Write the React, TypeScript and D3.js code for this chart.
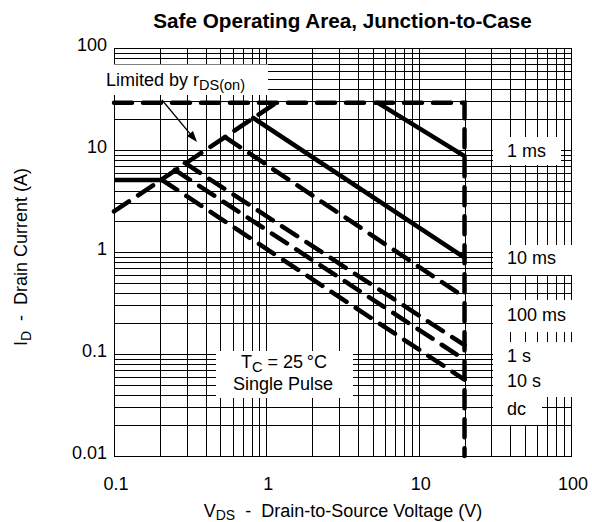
import React from 'react';
import * as d3 from 'd3';

const W = 592;
const H = 522;
const plot = { left: 114, right: 571, top: 48, bottom: 456 };

const xDomain: [number, number] = [0.1, 100];
const yDomain: [number, number] = [0.01, 100];
const xTickValues = [0.1, 1, 10, 100];
const xTickLabels = ['0.1', '1', '10', '100'];
const yTickValues = [0.01, 0.1, 1, 10, 100];
const yTickLabels = ['0.01', '0.1', '1', '10', '100'];

type P = { v: number; i: number };
const limitBoundary: P[] = [{ v: 0.1, i: 29 }, { v: 20, i: 29 }, { v: 20, i: 0.01 }];
const rdsOnLine: P[] = [{ v: 0.1, i: 2.5 }, { v: 1.16, i: 29 }];
const dcFlatSegment: P[] = [{ v: 0.1, i: 5.08 }, { v: 0.207, i: 5.08 }];
const pulse1ms: P[] = [{ v: 5.4, i: 29 }, { v: 20, i: 8.7 }];
const pulse10ms: P[] = [{ v: 0.82, i: 20.6 }, { v: 20, i: 0.88 }];
const pulse100ms: P[] = [{ v: 0.536, i: 13.4 }, { v: 20, i: 0.36 }];
const pulse1s: P[] = [{ v: 0.292, i: 7.46 }, { v: 20, i: 0.122 }];
const pulse10s: P[] = [{ v: 0.251, i: 6.37 }, { v: 20, i: 0.088 }];
const pulseDc: P[] = [{ v: 0.207, i: 5.08 }, { v: 20, i: 0.056 }];

const curveLabels = ['1 ms', '10 ms', '100 ms', '1 s', '10 s', 'dc'];
const labelBaselines = [157, 264, 321, 362, 387, 415];

const FONT = '"Liberation Sans", Arial, Helvetica, sans-serif';
const NB = '\u00A0';
const FS = 18;

export default function App() {
  const x = d3.scaleLog().domain(xDomain).range([plot.left, plot.right]);
  const y = d3.scaleLog().domain(yDomain).range([plot.bottom, plot.top]);
  const line = d3
    .line<P>()
    .x((d) => x(d.v))
    .y((d) => y(d.i));

  const xGrid: number[] = [];
  for (let d = 0.1; d < 99; d *= 10) for (let k = 1; k <= 9; k++) xGrid.push(k * d);
  xGrid.push(100);
  const yGrid: number[] = [];
  for (let d = 0.01; d < 99; d *= 10) for (let k = 1; k <= 9; k++) yGrid.push(k * d);
  yGrid.push(100);

  const snap = (p: number) => Math.round(p) + 0.5;

  const masks = [
    { x: 100, y: 64.5, w: 168, h: 30.5 },
    { x: 216, y: 351, w: 137, h: 47 },
    { x: 493, y: 137, w: 68, h: 28 },
    { x: 493, y: 245, w: 90, h: 30 },
    { x: 493, y: 300, w: 90, h: 32 },
    { x: 493, y: 342, w: 90, h: 55 },
    { x: 493, y: 397, w: 49, h: 28 },
  ];

  const dash = '18,11';
  const sw = 4.5;

  // arrow
  const ax1 = 162, ay1 = 100, ax2 = 197, ay2 = 142;
  const ang = Math.atan2(ay2 - ay1, ax2 - ax1);
  const ah = 11, aw = 4;
  const bx = ax2 - ah * Math.cos(ang), by = ay2 - ah * Math.sin(ang);
  const head = `${ax2},${ay2} ${bx + aw * Math.sin(ang)},${by - aw * Math.cos(ang)} ${bx - aw * Math.sin(ang)},${by + aw * Math.cos(ang)}`;

  return (
    <svg
      width={W}
      height={H}
      style={{ position: 'absolute', left: 0, top: 0, background: '#fff' }}
      fontFamily={FONT}
    >
      <rect x={0} y={0} width={W} height={H} fill="#fff" />
      <g stroke="#000" strokeWidth={1} shapeRendering="crispEdges">
        {xGrid.map((v, k) => (
          <line key={'xg' + k} x1={snap(x(v))} x2={snap(x(v))} y1={plot.top} y2={plot.bottom + 1} />
        ))}
        {yGrid.map((v, k) => (
          <line key={'yg' + k} x1={plot.left} x2={plot.right + 1} y1={snap(y(v))} y2={snap(y(v))} />
        ))}
      </g>
      {masks.map((m, k) => (
        <rect key={'m' + k} x={m.x} y={m.y} width={m.w} height={m.h} fill="#fff" />
      ))}
      <g fill="none" stroke="#000" strokeWidth={sw} strokeLinecap="round">
        <path d={line(limitBoundary) || ''} strokeDasharray={dash} />
        <path d={line(rdsOnLine) || ''} strokeDasharray={dash} />
        <path d={line(dcFlatSegment) || ''} strokeLinecap="butt" />
        <path d={line(pulse1ms) || ''} />
        <path d={line(pulse10ms) || ''} />
        <path d={line(pulse100ms) || ''} strokeDasharray={dash} />
        <path d={line(pulse1s) || ''} strokeDasharray={dash} />
        <path d={line(pulse10s) || ''} strokeDasharray={dash} />
        <path d={line(pulseDc) || ''} strokeDasharray={dash} />
      </g>
      <line x1={ax1} y1={ay1} x2={bx} y2={by} stroke="#000" strokeWidth={1.3} />
      <polygon points={head} fill="#000" />

      <text x={342.5} y={28} textAnchor="middle" fontWeight="bold" fontSize={20.7}>
        Safe Operating Area, Junction-to-Case
      </text>

      {yTickValues.map((v, k) => (
        <text key={'yt' + k} x={107} y={y(v) + 3} textAnchor="end" fontSize={FS}>
          {yTickLabels[k]}
        </text>
      ))}
      {xTickValues.map((v, k) => (
        <text key={'xt' + k} x={x(v) + 2} y={490} textAnchor="middle" fontSize={FS}>
          {xTickLabels[k]}
        </text>
      ))}

      <text x={343} y={517} textAnchor="middle" fontSize={FS}>
        V<tspan dy={3} fontSize={14}>DS</tspan>
        <tspan dy={-3}>{`${NB}${NB}-${NB}${NB}Drain-to-Source Voltage (V)`}</tspan>
      </text>
      <text transform="translate(27,257) rotate(-90)" textAnchor="middle" fontSize={FS}>
        I<tspan dy={4} fontSize={14}>D</tspan>
        <tspan dy={-4}>{`${NB}${NB}-${NB}${NB}Drain Current (A)`}</tspan>
      </text>

      <text x={106} y={86} fontSize={FS}>
        {`Limited by r`}
        <tspan dy={3.5} fontSize={14.5}>DS(on)</tspan>
      </text>

      <text x={284} y={368} textAnchor="middle" fontSize={FS}>
        T<tspan dy={4} fontSize={14.5}>C</tspan>
        <tspan dy={-4}>{` = 25\u2009°C`}</tspan>
      </text>
      <text x={283} y={390} textAnchor="middle" fontSize={FS}>
        Single Pulse
      </text>

      {curveLabels.map((t, k) => (
        <text key={'cl' + k} x={507} y={labelBaselines[k]} fontSize={FS}>
          {t}
        </text>
      ))}
    </svg>
  );
}
